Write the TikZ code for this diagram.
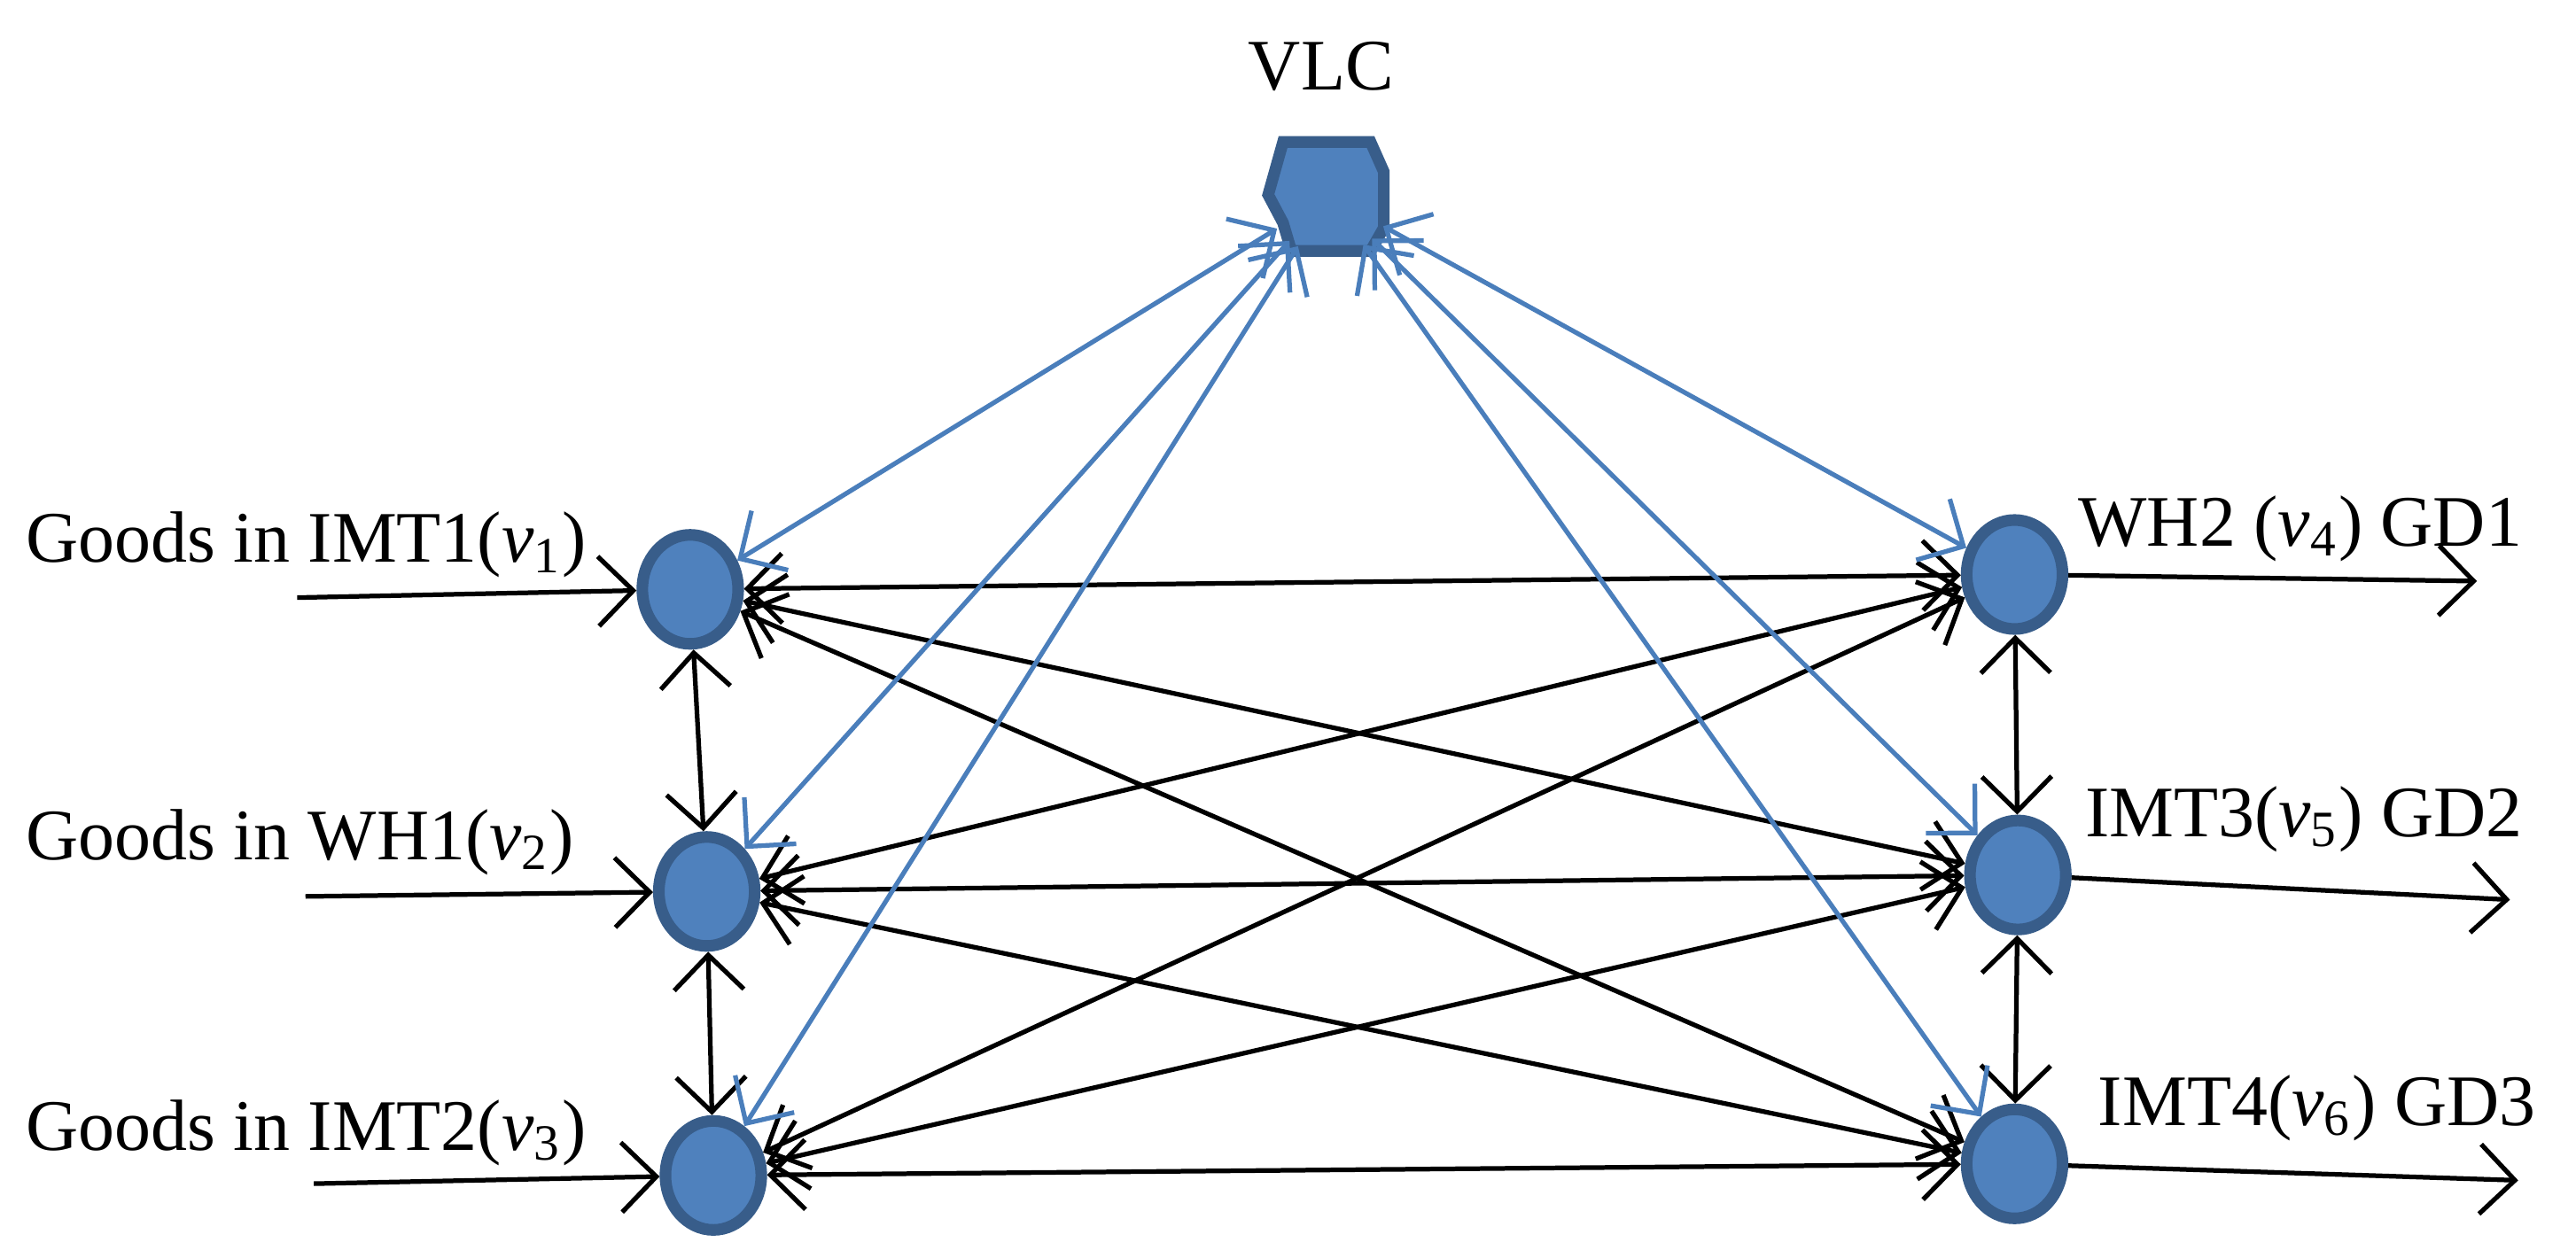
\documentclass[tikz,border=0pt]{standalone}
\usepackage{fontspec}
\setmainfont{Liberation Serif}
\usetikzlibrary{arrows.meta,shapes.geometric}
\definecolor{nfill}{HTML}{4F81BD}
\definecolor{nline}{HTML}{385D8A}
\definecolor{blue2}{HTML}{4A7EBB}
\newcommand{\vv}[1]{\textit{v}\textsubscript{#1}}
\begin{document}
\begin{tikzpicture}[x=0.01cm,y=-0.01cm,
  nd/.style={ellipse,draw=nline,fill=nfill,line width=2pt,minimum width=0.58cm,minimum height=0.66cm,inner sep=0pt},
  bk/.style={draw=black,line width=0.8pt,{Straight Barb[length=6pt,width=12pt]}-{Straight Barb[length=6pt,width=12pt]}},
  bl/.style={draw=blue2,line width=0.8pt,{Straight Barb[length=6pt,width=12pt]}-{Straight Barb[length=6pt,width=12pt]}},
  io/.style={draw=black,line width=0.8pt,-{Straight Barb[length=6pt,width=12pt]}},
  lb/.style={font=\fontsize{12.5}{15}\selectfont,inner sep=0pt}]
\useasboundingbox (0,0) rectangle (1560,757);
\node[nd] (v1) at (418,357) {};
\node[nd] (v2) at (428,540) {};
\node[nd] (v3) at (432,712) {};
\node[nd] (v4) at (1220,348) {};
\node[nd] (v5) at (1222,530) {};
\node[nd] (v6) at (1220,705) {};
\draw[nline,fill=nfill,line width=2pt] (777,86) -- (830,86) -- (838,104) -- (838,138) -- (830,152) -- (782,152) -- (777,135) -- (768,118) -- cycle;
\node[ellipse,minimum width=0.75cm,minimum height=0.68cm,inner sep=0pt] (vlc) at (805,119) {};
\node[lb] (tvlc) at (800,40) {VLC};
\node[lb,anchor=west] (t1) at (15,330) {Goods in IMT1(\vv1)};
\node[lb,anchor=west] (t2) at (15,510) {Goods in WH1(\vv2)};
\node[lb,anchor=west] (t3) at (15,686) {Goods in IMT2(\vv3)};
\node[lb,anchor=west] (t4) at (1258,320) {WH2 (\vv4) GD1};
\node[lb,anchor=west] (t5) at (1262,496) {IMT3(\vv5) GD2};
\node[lb,anchor=west] (t6) at (1270,671) {IMT4(\vv6) GD3};
\coordinate (i1) at (180,362); \coordinate (i2) at (185,543); \coordinate (i3) at (190,717);
\coordinate (o1) at (1500,352); \coordinate (o2) at (1520,545); \coordinate (o3) at (1525,715);
\draw[io] (i1) -- (v1); \draw[io] (i2) -- (v2); \draw[io] (i3) -- (v3);
\draw[io] (v4) -- (o1); \draw[io] (v5) -- (o2); \draw[io] (v6) -- (o3);
\foreach \a in {v1,v2,v3}{\foreach \b in {v4,v5,v6}{\draw[bk] (\a) -- (\b);}}
\draw[bk] (v1) -- (v2); \draw[bk] (v2) -- (v3);
\draw[bk] (v4) -- (v5); \draw[bk] (v5) -- (v6);
\foreach \b in {v1,v2,v3,v4,v5,v6}{\draw[bl] (vlc) -- (\b);}
\end{tikzpicture}
\end{document}
